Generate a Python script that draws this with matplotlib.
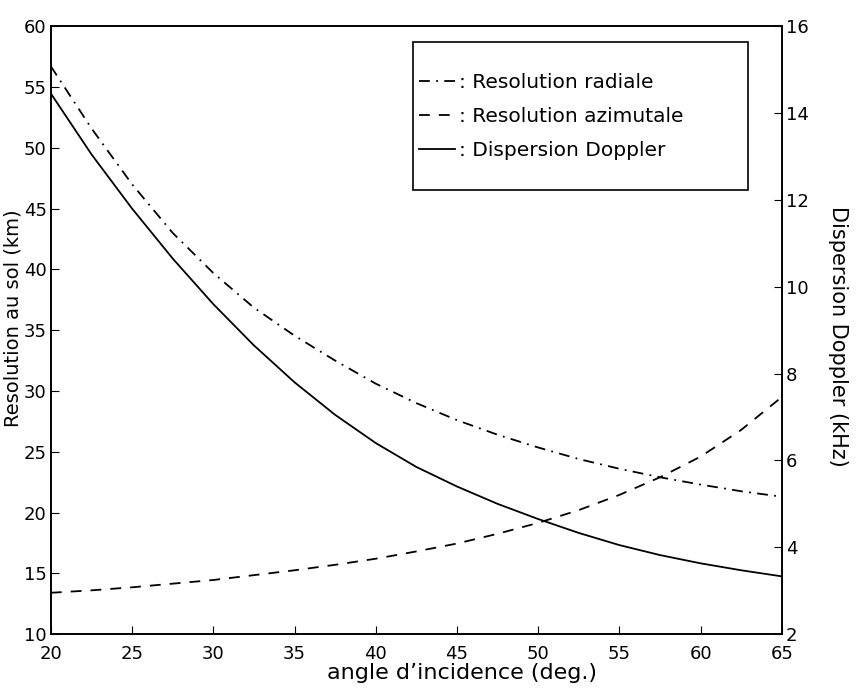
import numpy as np
import matplotlib
matplotlib.use("Agg")
from matplotlib import pyplot as plt
from matplotlib.patches import Rectangle

plt.rcParams['font.family'] = ['DejaVu Sans']

# angle d'incidence (deg.)
angles = [20, 22.5, 25, 27.5, 30, 32.5, 35, 37.5, 40, 42.5,
          45, 47.5, 50, 52.5, 55, 57.5, 60, 62.5, 65]

# resolution radiale (km)
res_radiale = [56.7, 51.6, 47.0, 43.0, 39.7, 36.85, 34.55, 32.5, 30.6, 29.0,
               27.6, 26.4, 25.35, 24.4, 23.6, 22.9, 22.3, 21.75, 21.3]

# resolution azimutale (km)
res_azimutale = [13.4, 13.6, 13.85, 14.15, 14.45, 14.85, 15.25, 15.7, 16.2, 16.8,
                 17.45, 18.25, 19.15, 20.2, 21.45, 22.9, 24.6, 26.8, 29.5]

# dispersion Doppler (kHz)
disp_doppler = [14.45, 13.05, 11.8, 10.65, 9.6, 8.65, 7.8, 7.05, 6.4, 5.85,
                5.4, 5.0, 4.65, 4.33, 4.05, 3.82, 3.63, 3.47, 3.33]

xticks = list(range(20, 66, 5))
left_ticks = list(range(10, 61, 5))
right_ticks = list(range(2, 17, 2))

fig = plt.figure(figsize=(8.62, 6.9), dpi=100)
ax = fig.add_axes([0.059, 0.081, 0.848, 0.881])

lr, = ax.plot(angles, res_radiale, color='black', lw=1.3,
              linestyle=(0, (6, 3.5, 1, 3.5)))
la, = ax.plot(angles, res_azimutale, color='black', lw=1.3,
              linestyle=(0, (6, 5)))
ax.set_xlim(20, 65)
ax.set_ylim(10, 60)
ax.set_xticks(xticks)
ax.set_yticks(left_ticks)
ax.tick_params(direction='in', length=6, labelsize=13, pad=3, top=False, right=False)
ax.tick_params(axis='x', pad=8)
ax.set_xlabel("angle d’incidence (deg.)", fontsize=16)
ax.xaxis.set_label_coords(0.563, -0.047)
ax.set_ylabel("Resolution au sol (km)", fontsize=14)
ax.yaxis.set_label_coords(-0.039, 0.52)

ax2 = ax.twinx()
ld, = ax2.plot(angles, disp_doppler, color='black', lw=1.3)
ax2.set_ylim(2, 16)
ax2.set_yticks(right_ticks)
ax2.tick_params(direction='in', length=6, labelsize=13, pad=3)
ax2.set_ylabel("Dispersion Doppler (kHz)", fontsize=15, rotation=270, va='bottom')
ax2.yaxis.set_label_coords(1.063, 0.49)

for a in (ax, ax2):
    for s in a.spines.values():
        s.set_linewidth(1.2)

# legend box drawn by hand, entries placed inside without a frame
box = Rectangle((0.495, 0.73), 0.459, 0.244, transform=ax2.transAxes,
                facecolor='white', edgecolor='black', lw=1.2, zorder=3)
ax2.add_patch(box)
leg = ax2.legend([lr, la, ld],
                 [": Resolution radiale", ": Resolution azimutale", ": Dispersion Doppler"],
                 loc='center left', bbox_to_anchor=(0.495, 0.852),
                 borderaxespad=0, borderpad=0.3, frameon=False, fontsize=14.5,
                 handlelength=1.8, handletextpad=0.2, labelspacing=0.75)
leg.set_zorder(4)

fig.savefig("out.png", dpi=100)
